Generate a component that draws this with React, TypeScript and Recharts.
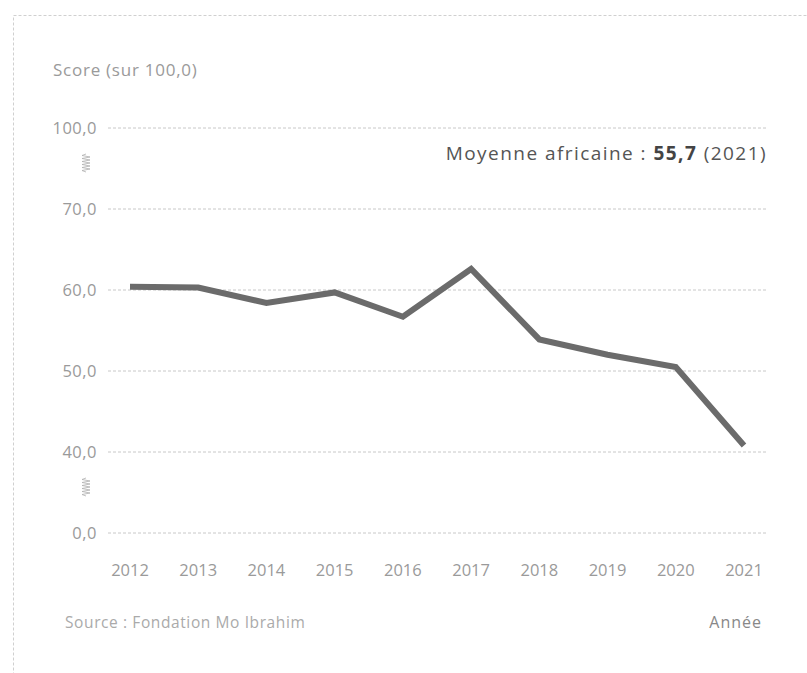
import { LineChart, Line, XAxis, YAxis, CartesianGrid } from 'recharts';

// Années et scores (sur 100,0)
const years = ['2012', '2013', '2014', '2015', '2016', '2017', '2018', '2019', '2020', '2021'];
const scores = [60.4, 60.3, 58.4, 59.7, 56.7, 62.6, 53.9, 52.0, 50.5, 40.8];

// Axe brisé : graduations affichées à intervalles réguliers
const tickValues = [0, 40, 50, 60, 70, 100];
const tickLabels = ['0,0', '40,0', '50,0', '60,0', '70,0', '100,0'];

// Position d'une valeur sur l'axe brisé (index de graduation, interpolé)
const toAxis = (v: number) => {
  for (let i = 0; i < tickValues.length - 1; i++) {
    if (v <= tickValues[i + 1]) {
      return i + (v - tickValues[i]) / (tickValues[i + 1] - tickValues[i]);
    }
  }
  return tickValues.length - 1;
};

const data = years.map((annee, i) => ({ annee, score: scores[i], pos: toAxis(scores[i]) }));

const FONT = '"Open Sans", Lato, sans-serif';

// Petit ressort indiquant la coupure de l'axe
const Zigzag = ({ x, y }: { x: number; y: number }) => {
  const pts: string[] = [`${x},${y - 9}`];
  for (let k = 0; k <= 10; k++) {
    pts.push(`${x + (k % 2 === 0 ? -4 : 4)},${y - 7.5 + k * 1.5}`);
  }
  pts.push(`${x},${y + 9}`);
  return <polyline points={pts.join(' ')} fill="none" stroke="#b0b0b0" strokeWidth={0.8} />;
};

const YTick = (props: any) => {
  const { x, y, payload } = props;
  const idx = payload.value as number;
  const breakAfter = idx === 5 || idx === 1; // coupure sous 100,0 et sous 40,0
  return (
    <g>
      <text x={x} y={y} dy="0.35em" textAnchor="end" fill="#9a9a9a" fontSize={16.5} letterSpacing={0.5} fontFamily={FONT}>
        {tickLabels[idx]}
      </text>
      {breakAfter && <Zigzag x={x - 11} y={y + 35} />}
    </g>
  );
};

export default function App() {
  return (
    <div style={{ position: 'absolute', left: 0, top: 0, width: 807, height: 673, background: '#fff', fontFamily: FONT }}>
      <svg width={807} height={673} style={{ position: 'absolute', left: 0, top: 0 }}>
        <rect x={13.5} y={15.5} width={820} height={700} fill="none" stroke="#d0d0d0" strokeDasharray="3 2" />
      </svg>
      <div style={{ position: 'absolute', left: 0, top: 0 }}>
        <LineChart width={807} height={673} data={data} margin={{ top: 128, right: 41, bottom: 110, left: 0 }}>
          <CartesianGrid vertical={false} stroke="#c8c8c8" strokeDasharray="3 2" />
          <XAxis
            dataKey="annee"
            height={30}
            axisLine={false}
            tickLine={false}
            tickSize={0}
            tickMargin={31}
            padding={{ left: 22, right: 22 }}
            tick={{ fill: '#9a9a9a', fontSize: 16.5, fontFamily: FONT }}
          />
          <YAxis
            type="number"
            domain={[0, 5]}
            ticks={[0, 1, 2, 3, 4, 5]}
            width={108}
            axisLine={false}
            tickLine={false}
            tickSize={0}
            tickMargin={11}
            tick={<YTick />}
          />
          <Line
            type="linear"
            dataKey="pos"
            stroke="#6b6b6b"
            strokeWidth={6}
            dot={false}
            activeDot={false}
            isAnimationActive={false}
          />
        </LineChart>
      </div>
      <div style={{ position: 'absolute', left: 53, top: 60, fontSize: 17, lineHeight: '20px', letterSpacing: 0.75, color: '#9a9a9a' }}>Score (sur 100,0)</div>
      <div style={{ position: 'absolute', right: 40, top: 141, fontSize: 19, lineHeight: '24px', letterSpacing: 1.45, color: '#555', whiteSpace: 'nowrap' }}>
        Moyenne africaine : <b style={{ fontWeight: 700, color: '#444' }}>55,7</b> (2021)
      </div>
      <div style={{ position: 'absolute', left: 65, top: 612, fontSize: 15.5, lineHeight: '20px', letterSpacing: 0.6, color: '#aaa' }}>Source : Fondation Mo Ibrahim</div>
      <div style={{ position: 'absolute', right: 45, top: 612, fontSize: 16, lineHeight: '20px', letterSpacing: 1, color: '#888' }}>Année</div>
    </div>
  );
}
